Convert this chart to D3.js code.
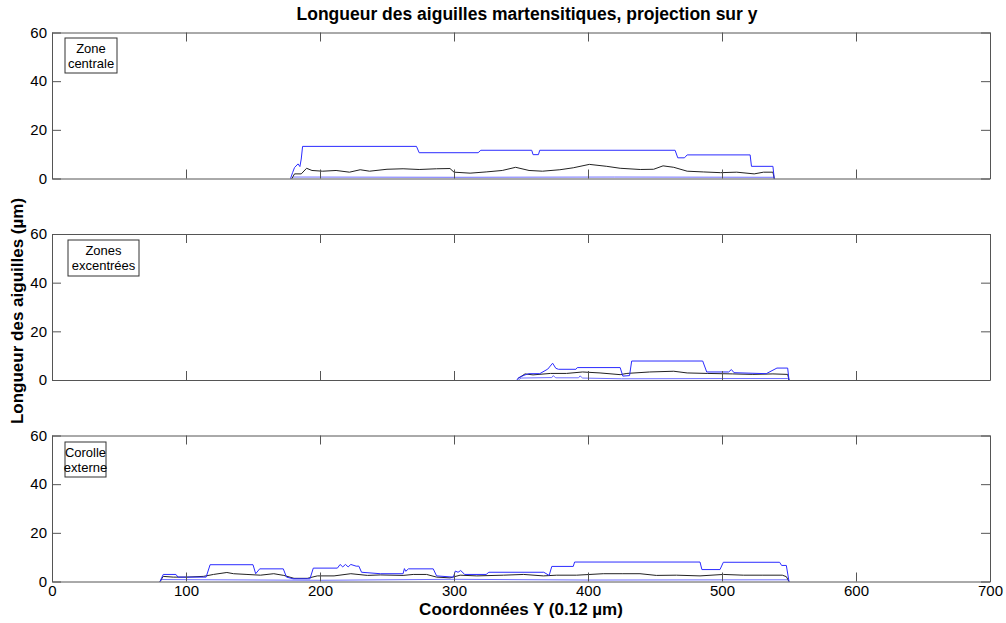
<!DOCTYPE html>
<html>
<head>
<meta charset="utf-8">
<script src="https://cdn.jsdelivr.net/npm/d3@7"></script>
<style>
  body { margin: 0; background: #fff; }
  svg { font-family: "Liberation Sans", Arial, sans-serif; }
</style>
</head>
<body>
<div id="chart"></div>
<script>
// axes
const xTicks = [0, 100, 200, 300, 400, 500, 600, 700];
const yTicks = [0, 20, 40, 60];
const panelLabels = [["Zone", "centrale"], ["Zones", "excentrées"], ["Corolle", "externe"]];

// zone centrale
const c1MaxX = [178, 179.6, 181, 183.6, 185, 186, 187, 272, 274, 318, 320, 358, 359, 363, 364, 465, 467, 472, 474, 521, 522, 538, 539];
const c1MaxY = [0, 2.5, 4.5, 6.0, 4.9, 8, 13.2, 13.2, 10.6, 10.6, 11.6, 11.6, 9.8, 9.8, 11.6, 11.6, 8.5, 8.5, 9.7, 9.7, 5.0, 5.0, 0];
const c1MeanX = [179, 181, 186, 190, 194, 202, 212, 222, 230, 237, 250, 262, 274, 287, 297, 300, 312, 324, 336, 346, 356, 366, 379, 389, 401, 414, 424, 439, 449, 456, 464, 474, 486, 499, 511, 524, 531, 538, 539];
const c1MeanY = [0, 1.9, 1.9, 4.2, 3.3, 3.0, 3.3, 2.6, 3.6, 3.0, 3.8, 4.0, 3.7, 4.0, 4.1, 2.6, 2.2, 2.7, 3.3, 4.6, 3.3, 3.0, 3.6, 4.4, 5.8, 5.0, 4.2, 3.7, 3.8, 5.2, 4.6, 3.0, 2.7, 2.4, 2.6, 1.9, 2.6, 2.6, 0];
const c1MinX = [179, 180, 300, 420, 538, 539];
const c1MinY = [0, 0.6, 0.5, 0.6, 0.5, 0];

// zones excentrées
const c2MaxX = [347, 348, 353, 356, 364, 370, 373.6, 376, 378, 391, 392, 424, 426, 431, 432.6, 485.6, 488.6, 505, 507, 509, 533, 541, 549, 550];
const c2MaxY = [0, 0.9, 2.1, 2.6, 2.6, 4.5, 6.9, 4.8, 4.4, 4.4, 5.1, 5.1, 1.6, 1.8, 7.8, 7.8, 3.3, 3.3, 4.3, 3.0, 2.6, 4.9, 4.9, 0];
const c2MeanX = [348, 353, 359, 372, 384, 396, 409, 424, 429, 446, 464, 474, 489, 508, 523, 538, 549, 550];
const c2MeanY = [0.7, 2.5, 2.1, 2.7, 2.7, 3.3, 2.9, 2.2, 2.7, 3.3, 3.6, 2.9, 2.7, 2.5, 2.3, 2.5, 2.3, 0];
const c2MinX = [348, 350, 373, 374, 376, 393, 394, 396, 425, 500, 549, 550];
const c2MinY = [0, 0.8, 1.0, 1.8, 0.9, 0.9, 1.7, 0.8, 0.5, 0.6, 0.6, 0];

// corolle externe
const c3MaxX = [80.6, 83, 92.5, 94, 115, 118, 150, 152, 155, 172.6, 175, 180, 192.5, 195, 213, 215, 217, 219, 221, 223, 227, 229, 231, 245, 262, 263, 264, 266, 284.5, 287, 299.5, 301, 303, 305, 308, 324, 326, 367, 371, 373, 389, 390, 483.6, 485, 498.5, 501, 543, 544.5, 548, 550];
const c3MaxY = [0, 2.9, 2.9, 1.8, 1.8, 6.9, 6.9, 3.2, 5.2, 5.2, 1.8, 1.1, 1.1, 5.5, 5.5, 7.0, 6.0, 7.0, 6.0, 7.0, 6.3, 6.3, 3.8, 3.2, 3.2, 5.3, 4.2, 5.2, 5.2, 2.3, 1.8, 4.3, 3.8, 4.5, 2.9, 2.9, 3.8, 3.8, 2.5, 6.2, 6.2, 8.0, 8.0, 4.9, 4.9, 7.9, 7.9, 6.6, 6.6, 0];
const c3MeanX = [80.6, 83, 90.5, 100.5, 113, 120.5, 130.5, 135.5, 145.5, 155.5, 165.5, 173, 180.6, 190.5, 198, 210.5, 223, 235.5, 245, 262, 269.6, 279.6, 287, 297, 304.6, 317, 337, 352, 366.7, 376.6, 391.5, 401.5, 411.4, 426, 438.8, 451, 466, 483.6, 501, 516, 530.5, 545, 548, 550];
const c3MeanY = [0, 2.1, 1.8, 1.8, 2.1, 2.9, 3.7, 3.2, 2.9, 2.6, 3.2, 2.5, 1.3, 1.3, 2.3, 2.3, 3.2, 2.5, 2.7, 2.5, 2.9, 2.9, 1.8, 1.5, 2.6, 2.3, 2.6, 2.9, 2.3, 2.6, 2.6, 2.9, 3.2, 3.2, 3.2, 2.5, 2.6, 2.3, 2.9, 2.6, 2.6, 2.6, 2.0, 0];
const c3MinX = [80.6, 82, 200, 300, 400, 549, 550];
const c3MinY = [0, 0.8, 0.5, 0.9, 0.6, 0.7, 0];

const panels = [
  { top: 32.5, label: panelLabels[0], box: [65, 38, 52, 35],
    series: [[c1MinX, c1MinY], [c1MeanX, c1MeanY], [c1MaxX, c1MaxY]] },
  { top: 234, label: panelLabels[1], box: [68, 240, 71, 36],
    series: [[c2MinX, c2MinY], [c2MeanX, c2MeanY], [c2MaxX, c2MaxY]] },
  { top: 435.5, label: panelLabels[2], box: [65, 442, 41, 35],
    series: [[c3MinX, c3MinY], [c3MeanX, c3MeanY], [c3MaxX, c3MaxY]] }
];
const seriesColors = ["#7070ff", "#222", "#2b2bff"];

const width = 1006, height = 623, ph = 146;
const svg = d3.select("#chart").append("svg")
  .attr("width", width).attr("height", height);

const x = d3.scaleLinear().domain([0, 700]).range([52, 990]);

panels.forEach((p, i) => {
  const y = d3.scaleLinear().domain([0, 60]).range([p.top + ph, p.top]);
  const g = svg.append("g");
  const last = i === panels.length - 1;

  // lignes de données
  const line = d3.line().x((d) => x(d[0])).y((d) => y(d[1]));
  p.series.forEach(([xs, ys], k) => {
    g.append("path")
      .datum(xs.map((v, j) => [v, ys[j]]))
      .attr("fill", "none")
      .attr("stroke", seriesColors[k])
      .attr("stroke-width", 1)
      .attr("d", line);
  });

  // axes (ticks vers l'intérieur)
  const fmt = last ? d3.format("d") : () => "";
  const ax = [
    g.append("g").attr("transform", `translate(0,${p.top + ph})`)
      .call(d3.axisBottom(x).tickValues(xTicks).tickSizeInner(-9).tickSizeOuter(0).tickPadding(4).tickFormat(fmt)),
    g.append("g").attr("transform", `translate(0,${p.top})`)
      .call(d3.axisTop(x).tickValues(xTicks).tickSizeInner(-9).tickSizeOuter(0).tickFormat("")),
    g.append("g").attr("transform", "translate(52,0)")
      .call(d3.axisLeft(y).tickValues(yTicks).tickSizeInner(-9).tickSizeOuter(0).tickPadding(5)),
    g.append("g").attr("transform", "translate(990,0)")
      .call(d3.axisRight(y).tickValues(yTicks).tickSizeInner(-9).tickSizeOuter(0).tickFormat(""))
  ];
  ax.forEach((a) => {
    a.select(".domain").attr("stroke", "#555");
    a.selectAll(".tick line").attr("stroke", "#555");
    a.selectAll(".tick text").attr("fill", "#000").style("font-size", "15px");
  });

  // boîte de légende
  const [bx, by, bw, bh] = p.box;
  g.append("rect")
    .attr("x", bx).attr("y", by).attr("width", bw).attr("height", bh)
    .attr("fill", "#fff").attr("stroke", "#333");
  p.label.forEach((t, j) => {
    g.append("text")
      .attr("x", bx + bw / 2).attr("y", by + 15 + j * 15)
      .attr("text-anchor", "middle")
      .style("font-size", "13px")
      .text(t);
  });
});

// titres
svg.append("text")
  .attr("x", 527).attr("y", 20)
  .attr("text-anchor", "middle")
  .style("font-size", "17.5px").style("font-weight", "bold")
  .text("Longueur des aiguilles martensitiques, projection sur y");

svg.append("text")
  .attr("x", 521).attr("y", 615)
  .attr("text-anchor", "middle")
  .style("font-size", "17px").style("font-weight", "bold")
  .text("Coordonnées Y (0.12 µm)");

svg.append("text")
  .attr("transform", "translate(23,311) rotate(-90)")
  .attr("text-anchor", "middle")
  .style("font-size", "17px").style("font-weight", "bold")
  .text("Longueur des aiguilles (µm)");
</script>
</body>
</html>
